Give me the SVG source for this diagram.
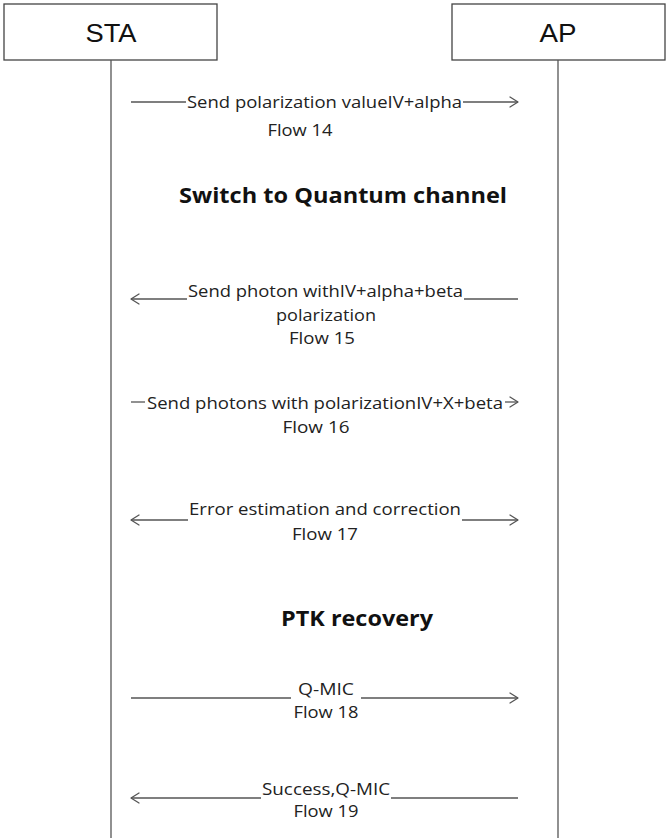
<svg xmlns="http://www.w3.org/2000/svg" width="667" height="838" viewBox="0 0 667 838">
  <style>
    .box { fill: #ffffff; stroke: #444444; stroke-width: 1.3; }
    .life { stroke: #555555; stroke-width: 1.3; fill: none; }
    .msg { stroke: #555555; stroke-width: 1.3; fill: none; }
    .head { stroke: #555555; stroke-width: 1.3; fill: none; stroke-linecap: round; stroke-linejoin: round; }
    .ent { font-family: "Liberation Sans", Arial, sans-serif; font-size: 26px; fill: #111111; text-anchor: middle; }
    .lbl { font-family: "Open Sans", "Liberation Sans", sans-serif; font-size: 17px; fill: #222222; text-anchor: middle; }
    .sec { font-family: "Open Sans", "Liberation Sans", sans-serif; font-size: 21px; font-weight: bold; fill: #111111; text-anchor: middle; }
  </style>
  <defs>
    <marker id="open" viewBox="0 0 12 12" refX="11" refY="6" markerWidth="12" markerHeight="12" markerUnits="userSpaceOnUse" orient="auto-start-reverse">
      <path class="head" d="M3,1 L11,6 L3,11"/>
    </marker>
  </defs>
  <rect width="667" height="838" fill="#ffffff"/>

  <g id="sta">
    <rect class="box" x="4" y="4" width="213" height="56"/>
    <text class="ent" x="111" y="42" textLength="51" lengthAdjust="spacingAndGlyphs">STA</text>
    <line class="life" x1="111" y1="60" x2="111" y2="838"/>
  </g>
  <g id="ap">
    <rect class="box" x="452" y="4" width="213" height="56"/>
    <text class="ent" x="558" y="42" textLength="37" lengthAdjust="spacingAndGlyphs">AP</text>
    <line class="life" x1="558" y1="60" x2="558" y2="838"/>
  </g>

  <g id="connectors">
    <!-- Flow 14 -->
    <line class="msg" x1="131" y1="102" x2="186" y2="102"/>
    <line class="msg" x1="463" y1="102" x2="518" y2="102" marker-end="url(#open)"/>
    <!-- Flow 15 -->
    <line class="msg" x1="187" y1="299" x2="131" y2="299" marker-end="url(#open)"/>
    <line class="msg" x1="464" y1="299" x2="518" y2="299"/>
    <!-- Flow 16 -->
    <line class="msg" x1="131" y1="402" x2="145" y2="402"/>
    <line class="msg" x1="505" y1="402" x2="518" y2="402" marker-end="url(#open)"/>
    <!-- Flow 17 -->
    <line class="msg" x1="188" y1="520" x2="131" y2="520" marker-end="url(#open)"/>
    <line class="msg" x1="462" y1="520" x2="518" y2="520" marker-end="url(#open)"/>
    <!-- Flow 18 -->
    <line class="msg" x1="131" y1="698" x2="291" y2="698"/>
    <line class="msg" x1="361" y1="698" x2="518" y2="698" marker-end="url(#open)"/>
    <!-- Flow 19 -->
    <line class="msg" x1="261" y1="798" x2="131" y2="798" marker-end="url(#open)"/>
    <line class="msg" x1="391" y1="798" x2="518" y2="798"/>
  </g>

  <g id="flow14">
    <text class="lbl" x="324.5" y="108" textLength="275" lengthAdjust="spacingAndGlyphs">Send polarization valueIV+alpha</text>
    <text class="lbl" x="300" y="136" textLength="65" lengthAdjust="spacingAndGlyphs">Flow 14</text>
  </g>
  <g id="switch">
    <text class="sec" x="343" y="203" textLength="328" lengthAdjust="spacingAndGlyphs">Switch to Quantum channel</text>
  </g>
  <g id="flow15">
    <text class="lbl" x="325.5" y="297" textLength="275" lengthAdjust="spacingAndGlyphs">Send photon withIV+alpha+beta</text>
    <text class="lbl" x="326" y="321" textLength="100" lengthAdjust="spacingAndGlyphs">polarization</text>
    <text class="lbl" x="322" y="344" textLength="66" lengthAdjust="spacingAndGlyphs">Flow 15</text>
  </g>
  <g id="flow16">
    <text class="lbl" x="325" y="409" textLength="356" lengthAdjust="spacingAndGlyphs">Send photons with polarizationIV+X+beta</text>
    <text class="lbl" x="316" y="433" textLength="67" lengthAdjust="spacingAndGlyphs">Flow 16</text>
  </g>
  <g id="flow17">
    <text class="lbl" x="325" y="515" textLength="272" lengthAdjust="spacingAndGlyphs">Error estimation and correction</text>
    <text class="lbl" x="325" y="540" textLength="66" lengthAdjust="spacingAndGlyphs">Flow 17</text>
  </g>
  <g id="ptk">
    <text class="sec" x="357" y="626" textLength="152" lengthAdjust="spacingAndGlyphs">PTK recovery</text>
  </g>
  <g id="flow18">
    <text class="lbl" x="326" y="695" textLength="56" lengthAdjust="spacingAndGlyphs">Q-MIC</text>
    <text class="lbl" x="326" y="718" textLength="65" lengthAdjust="spacingAndGlyphs">Flow 18</text>
  </g>
  <g id="flow19">
    <text class="lbl" x="326" y="795" textLength="128" lengthAdjust="spacingAndGlyphs">Success,Q-MIC</text>
    <text class="lbl" x="326" y="817" textLength="65" lengthAdjust="spacingAndGlyphs">Flow 19</text>
  </g>
</svg>
